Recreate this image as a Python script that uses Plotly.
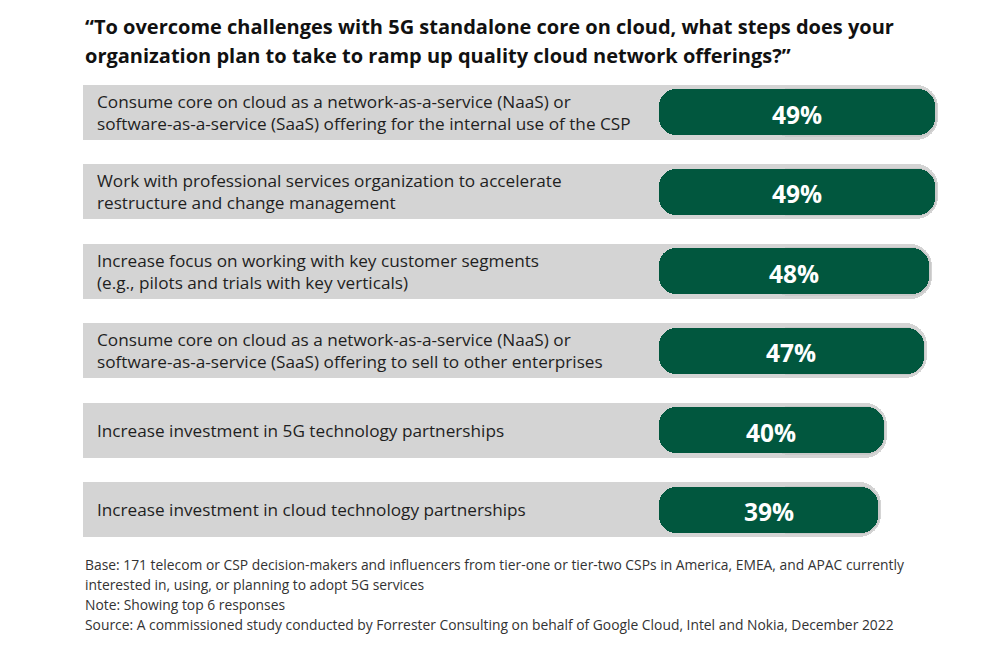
import plotly.graph_objects as go

categories = [
    "Consume core on cloud as a network-as-a-service (NaaS) or<br>software-as-a-service (SaaS) offering for the internal use of the CSP",
    "Work with professional services organization to accelerate<br>restructure and change management",
    "Increase focus on working with key customer segments<br>(e.g., pilots and trials with key verticals)",
    "Consume core on cloud as a network-as-a-service (NaaS) or<br>software-as-a-service (SaaS) offering to sell to other enterprises",
    "Increase investment in 5G technology partnerships",
    "Increase investment in cloud technology partnerships",
]
values = [49, 49, 48, 47, 40, 39]
value_labels = ["49%", "49%", "48%", "47%", "40%", "39%"]

title_lines = [
    "“To overcome challenges with 5G standalone core on cloud, what steps does your",
    "organization plan to take to ramp up quality cloud network offerings?”",
]
notes = [
    "Base: 171 telecom or CSP decision-makers and influencers from tier-one or tier-two CSPs in America, EMEA, and APAC currently",
    "interested in, using, or planning to adopt 5G services",
    "Note: Showing top 6 responses",
    "Source: A commissioned study conducted by Forrester Consulting on behalf of Google Cloud, Intel and Nokia, December 2022",
]

GREEN = "#01573e"
GRAY = "#d4d4d4"
RING = "#c8c8c8"

row_left = -100.5
pill_left = 0.6
mid = 20
rows = list(range(len(values)))
OFF = 8  # page body margin in pixels

fig = go.Figure()
# gray row background (rounded at right end)
fig.add_trace(go.Bar(
    y=rows, x=[v + 0.55 - mid for v in values], base=mid, orientation="h",
    width=0.692, marker=dict(color=GRAY, cornerradius=22, line=dict(width=0)),
    hoverinfo="skip", showlegend=False))
# gray row background (square left end)
fig.add_trace(go.Bar(
    y=rows, x=[mid + 5 - row_left for v in values], base=row_left, orientation="h",
    width=0.692, marker=dict(color=GRAY, line=dict(width=0)),
    hoverinfo="skip", showlegend=False))
# subtle ring at right end of pill
fig.add_trace(go.Bar(
    y=rows, x=[v + 0.3 - mid for v in values], base=mid, orientation="h",
    width=0.612, marker=dict(color=RING, cornerradius=19, line=dict(width=0)),
    hoverinfo="skip", showlegend=False))
# green pill
fig.add_trace(go.Bar(
    y=rows, x=[v - pill_left for v in values], base=pill_left, orientation="h",
    width=0.579, marker=dict(color=GREEN, cornerradius=17, line=dict(width=0)),
    hoverinfo="skip", showlegend=False))

annotations = []
for i, (c, v, lab) in enumerate(zip(categories, values, value_labels)):
    annotations.append(dict(
        x=-98.35, y=i, xref="x", yref="y", text=c, showarrow=False,
        xanchor="left", yanchor="middle", align="left",
        font=dict(family="Open Sans", size=17.2, color="#1f1f1f")))
    annotations.append(dict(
        x=(pill_left + v) / 2, y=i + 0.02, xref="x", yref="y", text=lab, showarrow=False,
        xanchor="center", yanchor="middle",
        font=dict(family="Open Sans", size=24.5, color="white", weight="bold")))

for j, t in enumerate(title_lines):
    annotations.append(dict(
        x=(83 - OFF) / 1000, y=1 - (26 + 29 * j - OFF) / 655, xref="paper", yref="paper",
        text="<b>" + t + "</b>", showarrow=False, xanchor="left", yanchor="middle",
        font=dict(family="Open Sans", size=20, color="#111111")))

for j, t in enumerate(notes):
    annotations.append(dict(
        x=(83 - OFF) / 1000, y=1 - (564 + 20 * j - OFF) / 655, xref="paper", yref="paper",
        text=t, showarrow=False, xanchor="left", yanchor="middle",
        font=dict(family="Open Sans", size=13.85, color="#333333")))

fig.update_layout(
    width=1000, height=655,
    margin=dict(l=0, r=0, t=0, b=0),
    paper_bgcolor="white", plot_bgcolor="white",
    barmode="overlay", bargap=0,
    xaxis=dict(range=[-113.63, 61.81], visible=False, fixedrange=True),
    yaxis=dict(range=[6.925, -1.314], visible=False, fixedrange=True),
    annotations=annotations,
    showlegend=False,
)

fig.write_html("out.html")
